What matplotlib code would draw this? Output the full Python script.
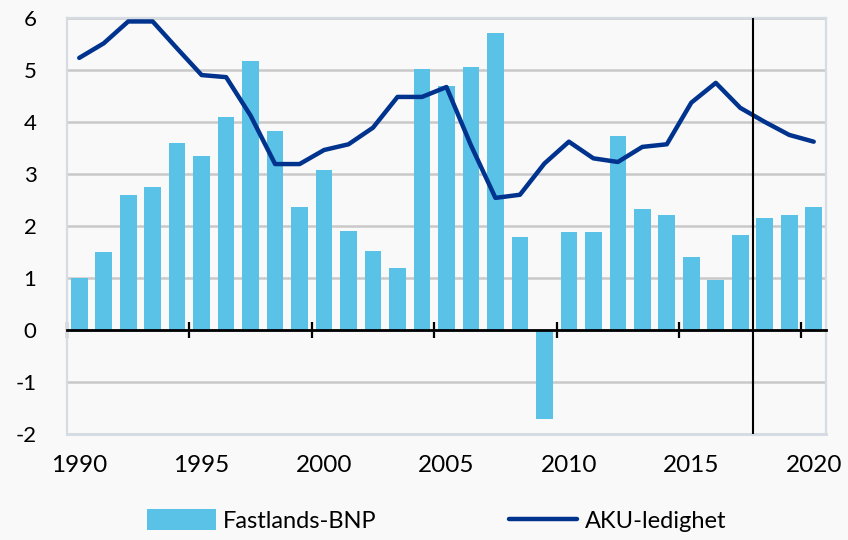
import matplotlib
matplotlib.use('Agg')
import matplotlib.pyplot as plt
import matplotlib.transforms as mtransforms
import numpy as np

plt.rcParams['font.family'] = ['Lato', 'DejaVu Sans']

# data
years = list(range(1990, 2021))
bnp = [1.0, 1.5, 2.6, 2.75, 3.6, 3.35, 4.1, 5.17, 3.83, 2.37,
       3.07, 1.9, 1.52, 1.2, 5.02, 4.69, 5.06, 5.71, 1.78, -1.7,
       1.89, 1.89, 3.73, 2.32, 2.21, 1.41, 0.97, 1.83, 2.16, 2.21, 2.37]
aku = [5.23, 5.51, 5.93, 5.93, 5.41, 4.9, 4.86, 4.12, 3.19, 3.19,
       3.46, 3.57, 3.89, 4.48, 4.48, 4.67, 3.55, 2.54, 2.6, 3.2,
       3.62, 3.3, 3.23, 3.52, 3.57, 4.37, 4.75, 4.27, 4.0, 3.75, 3.62]
label_years = [1990, 1995, 2000, 2005, 2010, 2015, 2020]
yticks = [-2, -1, 0, 1, 2, 3, 4, 5, 6]
split_year = 2017.5

bg = '#f9f9f9'
frame = '#d5dce4'
fig = plt.figure(figsize=(8.48, 5.4), dpi=100, facecolor=bg)
ax = fig.add_axes([0.079, 0.196, 0.895, 0.771], facecolor=bg)

x = np.arange(len(years))
bars = ax.bar(x, bnp, width=0.68, color='#5bc2e7', label='Fastlands-BNP', zorder=2)
line, = ax.plot(x, aku, color='#00338d', lw=3.2, label='AKU-ledighet', zorder=3,
                solid_capstyle='round', solid_joinstyle='round')

ax.set_xlim(-0.5, len(years) - 0.5)
ax.set_ylim(-2, 6)
ax.set_yticks(yticks)
ax.set_yticklabels([str(v) for v in yticks], fontsize=16)
ax.yaxis.grid(True, color='#c9c9c9', lw=1.8, zorder=0)
ax.set_axisbelow(True)
ax.tick_params(axis='y', length=0, pad=22)

for s in ax.spines.values():
    s.set_color(frame)
    s.set_linewidth(1.6)

# x axis line at zero, ticks at category boundaries crossing it
lx = [years.index(y) for y in label_years]
ax.spines['bottom'].set_position(('data', 0))
ax.spines['bottom'].set_color('black')
ax.spines['bottom'].set_linewidth(2)
ax.spines['bottom'].set_zorder(4)
ax.set_xticks([i - 0.5 for i in lx])
ax.set_xticklabels([])
ax.tick_params(axis='x', direction='inout', length=11, width=1.6, color='black')
ax.axhline(-2, color=frame, lw=2.2, zorder=1, clip_on=False)

# year labels below the plot, centred on categories
trans = mtransforms.blended_transform_factory(ax.transData, ax.transAxes)
for i, y in zip(lx, label_years):
    ax.text(i, -0.075, str(y), transform=trans, ha='center', va='center', fontsize=17.5)

ax.axvline(years.index(int(split_year + 0.5)) - 0.5, color='black', lw=1.5, zorder=4)

fig.legend([bars, line], ['Fastlands-BNP', 'AKU-ledighet'], loc='center',
           bbox_to_anchor=(0.515, 0.036), ncol=2, frameon=False,
           fontsize=17, handlelength=2.9, handleheight=1.0, columnspacing=5.6,
           handletextpad=0.3)

fig.savefig('out.png', dpi=100, facecolor=bg)
